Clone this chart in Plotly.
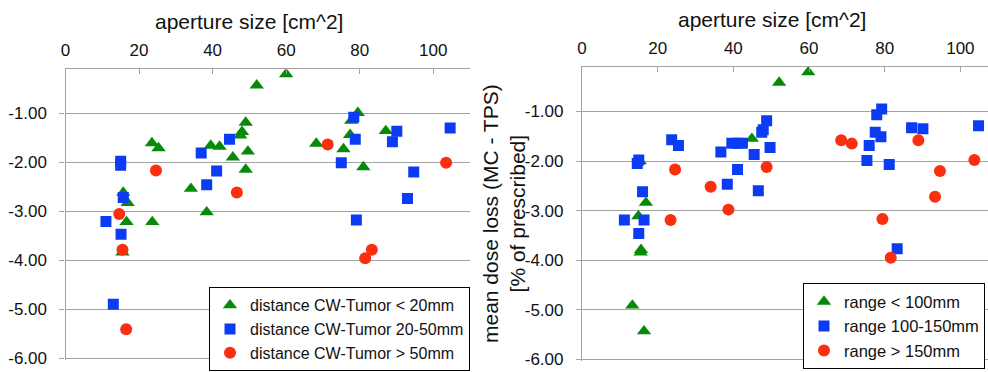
import plotly.graph_objects as go

# ---------------- data (left panel: grouped by distance CW-Tumor) ----------------
L_lt20_x = [60, 52, 49, 48, 47.5, 23.5, 25.3, 39.5, 41.9, 45.5, 49.6, 49.0, 34.1, 15.7, 16.9,
            16.6, 23.6, 38.4, 15.5, 79.5, 77.7, 77.4, 75.6, 68.2, 81.0, 87.1]
L_lt20_y = [-0.20, -0.43, -1.19, -1.38, -1.45, -1.61, -1.71, -1.66, -1.68, -1.90, -1.78, -2.15, -2.54, -2.62, -2.83,
            -3.22, -3.22, -3.02, -3.84, -0.99, -1.15, -1.44, -1.73, -1.62, -2.10, -1.36]
L_mid_x = [15.0, 15.0, 36.9, 44.6, 41.1, 38.4, 15.7, 11.0, 15.1, 13.0, 78.4, 78.8, 75.0, 90.1, 88.9,
           104.6, 94.7, 93.0, 79.1]
L_mid_y = [-1.98, -2.06, -1.81, -1.53, -2.18, -2.46, -2.72, -3.21, -3.47, -4.90, -1.08, -1.53, -2.01, -1.37, -1.58,
           -1.30, -2.20, -2.74, -3.18]
L_gt50_x = [24.6, 46.6, 14.6, 15.5, 16.5, 71.3, 103.5, 83.3, 81.5]
L_gt50_y = [-2.17, -2.62, -3.06, -3.79, -5.41, -1.64, -2.01, -3.79, -3.96]

# ---------------- data (right panel: grouped by range) ----------------
R_lt100_x = [59.8, 52.1, 44.9, 15.3, 16.9, 14.9, 15.6, 15.5, 13.3, 16.4]
R_lt100_y = [-0.21, -0.42, -1.55, -2.00, -2.84, -3.11, -3.79, -3.84, -4.91, -5.43]
R_mid_x = [48.8, 47.9, 47.5, 49.7, 45.5, 39.6, 41.1, 42.4, 36.7, 23.7, 25.5, 14.6, 15.0, 41.1, 38.4,
           46.6, 16.0, 11.2, 16.4, 15.0, 79.2, 77.9, 77.5, 79.0, 75.9, 75.3, 81.2, 87.1, 90.1, 104.8, 83.3]
R_mid_y = [-1.19, -1.37, -1.42, -1.73, -1.87, -1.64, -1.64, -1.64, -1.82, -1.57, -1.69, -2.05, -1.98, -2.17, -2.47,
           -2.60, -2.62, -3.19, -3.19, -3.46, -0.95, -1.07, -1.42, -1.51, -1.69, -1.99, -2.07, -1.33, -1.35, -1.29, -3.77]
R_gt150_x = [24.6, 48.8, 34.0, 38.7, 23.4, 68.5, 71.3, 88.9, 103.7, 94.6, 93.3, 79.4, 81.6]
R_gt150_y = [-2.17, -2.12, -2.52, -2.98, -3.19, -1.58, -1.65, -1.58, -1.98, -2.20, -2.72, -3.17, -3.95]

y_tickvals = [-6, -5, -4, -3, -2, -1]
y_ticktext = ["-6.00", "-5.00", "-4.00", "-3.00", "-2.00", "-1.00"]
x_tickvals = [0, 20, 40, 60, 80, 100]
x_ticktext = ["0", "20", "40", "60", "80", "100"]

left_names = ["distance CW-Tumor < 20mm", "distance CW-Tumor 20-50mm", "distance CW-Tumor > 50mm"]
right_names = ["range < 100mm", "range 100-150mm", "range > 150mm"]

GREEN = "#078a07"
BLUE = "#0b3cf4"
RED = "#fb2e0e"
FONT = "Liberation Sans, Arial, sans-serif"

fig = go.Figure()

def add(x, y, name, sym, color, size, xa, ya, leg):
    fig.add_trace(go.Scatter(
        x=x, y=y, mode="markers", name=name, xaxis=xa, yaxis=ya, legend=leg,
        marker=dict(symbol=sym, color=color, size=size, line=dict(width=0)),
    ))

add(L_lt20_x, L_lt20_y, left_names[0], "triangle-up", GREEN, 12.5, "x", "y", "legend")
add(L_mid_x, L_mid_y, left_names[1], "square", BLUE, 11, "x", "y", "legend")
add(L_gt50_x, L_gt50_y, left_names[2], "circle", RED, 12, "x", "y", "legend")
add(R_lt100_x, R_lt100_y, right_names[0], "triangle-up", GREEN, 12.5, "x2", "y2", "legend2")
add(R_mid_x, R_mid_y, right_names[1], "square", BLUE, 11, "x2", "y2", "legend2")
add(R_gt150_x, R_gt150_y, right_names[2], "circle", RED, 12, "x2", "y2", "legend2")

AX = "#a3a3a3"
xcommon = dict(side="top", tickvals=x_tickvals, ticktext=x_ticktext, ticks="inside", ticklen=5,
               tickcolor=AX, showline=True, linecolor=AX, linewidth=1.2, showgrid=False,
               zeroline=False, tickfont=dict(family=FONT, size=17, color="#111"),
               ticklabelstandoff=5)
ycommon = dict(tickvals=y_tickvals, ticktext=y_ticktext, ticks="outside", ticklen=5, tickcolor=AX,
               showline=True, linecolor=AX, linewidth=1.2, showgrid=True, gridcolor=AX, gridwidth=1.2,
               zeroline=False, tickfont=dict(family=FONT, size=17, color="#111"),
               ticklabelstandoff=9)

fig.update_layout(
    width=988, height=372,
    margin=dict(l=0, r=0, t=0, b=0, autoexpand=False),
    paper_bgcolor="white", plot_bgcolor="white",
    font=dict(family=FONT, color="#111"),
    showlegend=True,
    xaxis=dict(domain=[65.5 / 988, 470 / 988], range=[0, 110], anchor="y", **xcommon),
    yaxis=dict(domain=[1 - 359.5 / 372, 1 - 69.2 / 372], range=[-6.03, -0.1], anchor="x", **ycommon),
    xaxis2=dict(domain=[582 / 988, 1.0], range=[0, 107.3], anchor="y2", **xcommon),
    yaxis2=dict(domain=[1 - 361 / 372, 1 - 66.7 / 372], range=[-6.03, -0.1], anchor="x2", **ycommon),
    legend=dict(x=470 / 988, xanchor="right", y=1 - 287.3 / 372, yanchor="top",
                bgcolor="white", bordercolor="black", borderwidth=1,
                font=dict(family=FONT, size=16, color="#111"), itemwidth=30, tracegroupgap=0),
    legend2=dict(x=803 / 988, xanchor="left", y=1 - 283.3 / 372, yanchor="top",
                 bgcolor="white", bordercolor="black", borderwidth=1,
                 font=dict(family=FONT, size=16.5, color="#111"), itemwidth=30, tracegroupgap=0,
                 entrywidth=180, entrywidthmode="pixels"),
    annotations=[
        dict(text="aperture size [cm^2]", xref="paper", yref="paper", x=249 / 988, y=1 - 22 / 372,
             xanchor="center", yanchor="middle", showarrow=False, font=dict(family=FONT, size=21, color="#111")),
        dict(text="aperture size [cm^2]", xref="paper", yref="paper", x=771.7 / 988, y=1 - 20 / 372,
             xanchor="center", yanchor="middle", showarrow=False, font=dict(family=FONT, size=21, color="#111")),
        dict(text="mean dose loss (MC - TPS)<br>[% of prescribed]", xref="paper", yref="paper",
             x=504 / 988, y=1 - 214 / 372, xanchor="center", yanchor="middle", textangle=-90,
             showarrow=False, font=dict(family=FONT, size=21, color="#111")),
    ],
)

fig.write_html("out.html")
